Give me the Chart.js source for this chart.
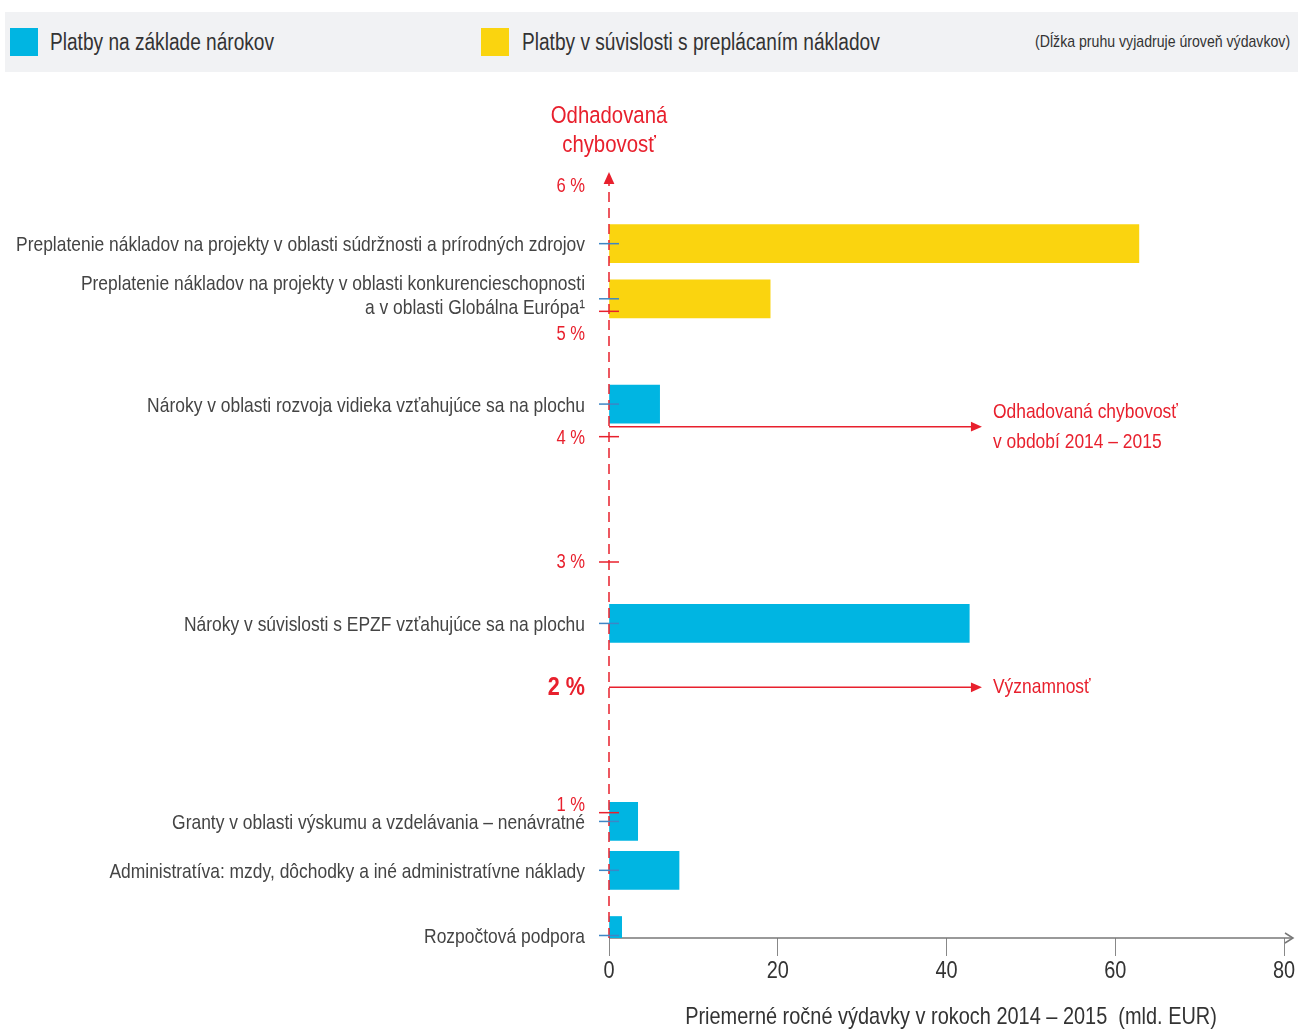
<!DOCTYPE html>
<html>
<head>
<meta charset="utf-8">
<script src="https://cdn.jsdelivr.net/npm/chart.js@4.4.1/dist/chart.umd.min.js"></script>
<style>
  html, body { margin: 0; padding: 0; background: #fff; }
  body { width: 1298px; height: 1030px; position: relative; overflow: hidden;
         font-family: "Liberation Sans", Arial, sans-serif; }
  #legend { position: absolute; left: 5px; top: 12px; width: 1293px; height: 60px;
            background: #f1f2f4; color: #333; z-index: 2; }
  #legend .sw { position: absolute; top: 16px; width: 28px; height: 28px; }
  #legend .lt { position: absolute; top: 0; line-height: 60px; font-size: 23px; white-space: nowrap;
                transform-origin: left center; }
  #legend .note { position: absolute; right: 8px; top: 0; line-height: 60px; font-size: 17px; white-space: nowrap;
                  transform-origin: right center; }
  #chart { position: absolute; left: 0; top: 0; }
</style>
</head>
<body>
<div id="legend">
  <div class="sw" style="left:5px;background:#00b5e2"></div>
  <div class="lt" style="left:45px">Platby na základe nárokov</div>
  <div class="sw" style="left:476px;background:#fad40f"></div>
  <div class="lt" style="left:517px">Platby v súvislosti s preplácaním nákladov</div>
  <div class="note">(Dĺžka pruhu vyjadruje úroveň výdavkov)</div>
</div>
<canvas id="chart" width="1298" height="1030"></canvas>
<script>
// data
const categories = [
  ["Preplatenie nákladov na projekty v oblasti súdržnosti a prírodných zdrojov"],
  ["Preplatenie nákladov na projekty v oblasti konkurencieschopnosti", "a v oblasti Globálna Európa¹"],
  ["Nároky v oblasti rozvoja vidieka vzťahujúce sa na plochu"],
  ["Nároky v súvislosti s EPZF vzťahujúce sa na plochu"],
  ["Granty v oblasti výskumu a vzdelávania – nenávratné"],
  ["Administratíva: mzdy, dôchodky a iné administratívne náklady"],
  ["Rozpočtová podpora"]
];
const spending = [62.8, 19.1, 6.0, 42.7, 3.4, 8.3, 1.5];      // mld. EUR
const errorRate = [5.54, 5.10, 4.26, 2.51, 0.93, 0.54, 0.02];  // %
const paymentType = ["reimb", "reimb", "entitle", "entitle", "entitle", "entitle", "entitle"];
const rateTicks = [1, 2, 3, 4, 5, 6];
const spendTicks = [0, 20, 40, 60, 80];
const overallError = 4.08;
const materiality = 2;

const RED = "#e8202d";
const GREY = "#444";
const FONT = '"Liberation Sans", Arial, sans-serif';
const typeColor = { entitle: "#00b5e2", reimb: "#fad40f" };
// label nudges so they don't sit on top of each other
const rateLabelShift = { 5: 23, 1: -7, 4: 2 };

// the original uses a condensed face; squeeze a regular one to the same width
const mctx = document.createElement("canvas").getContext("2d");
mctx.font = "21px " + FONT;
const K = 569 / mctx.measureText(categories[0][0]).width;
document.querySelectorAll("#legend .lt, #legend .note").forEach(el => {
  el.style.transform = "scaleX(" + K + ")";
});

function txt(ctx, text, x, y, size, align, bold) {
  ctx.save();
  ctx.font = (bold ? "bold " : "") + size + "px " + FONT;
  ctx.textAlign = align;
  ctx.textBaseline = "middle";
  ctx.translate(x, y);
  ctx.scale(K, 1);
  ctx.fillText(text, 0, 0);
  ctx.restore();
}

function arrowHead(ctx, x, y, dir, size) {
  ctx.beginPath();
  if (dir === "up") {
    ctx.moveTo(x, y); ctx.lineTo(x - size * 0.45, y + size); ctx.lineTo(x + size * 0.45, y + size);
  } else {
    ctx.moveTo(x, y); ctx.lineTo(x - size, y - size * 0.45); ctx.lineTo(x - size, y + size * 0.45);
  }
  ctx.closePath();
  ctx.fill();
}

const decorations = {
  id: "decorations",
  beforeDatasetsDraw(chart) {
    const { ctx, scales: { x, y } } = chart;
    const y0 = y.getPixelForValue(0);
    ctx.save();
    ctx.strokeStyle = "#777";
    ctx.lineWidth = 1.5;
    ctx.beginPath();
    ctx.moveTo(x.getPixelForValue(0), y0);
    ctx.lineTo(1292, y0);
    ctx.stroke();
    ctx.beginPath();
    ctx.moveTo(1285, y0 - 5); ctx.lineTo(1293, y0); ctx.lineTo(1285, y0 + 5);
    ctx.stroke();

    // spending tick labels + axis title
    ctx.fillStyle = "#333";
    spendTicks.forEach(v => txt(ctx, String(v), x.getPixelForValue(v), 971, 24, "center"));
    txt(ctx, "Priemerné ročné výdavky v rokoch 2014 – 2015  (mld. EUR)", 951, 1017, 24, "center");
    ctx.restore();
  },
  afterDatasetsDraw(chart) {
    const { ctx, scales: { x, y } } = chart;
    const x0 = x.getPixelForValue(0);
    ctx.save();

    // dashed error-rate axis
    ctx.strokeStyle = RED;
    ctx.fillStyle = RED;
    ctx.lineWidth = 1.5;
    ctx.setLineDash([10, 6]);
    ctx.beginPath();
    ctx.moveTo(x0, y.getPixelForValue(0));
    ctx.lineTo(x0, y.getPixelForValue(6) - 4);
    ctx.stroke();
    ctx.setLineDash([]);
    arrowHead(ctx, x0, y.getPixelForValue(6) - 14, "up", 12);

    // axis title
    txt(ctx, "Odhadovaná", x0, 116, 24.5, "center");
    txt(ctx, "chybovosť", x0, 145, 24.5, "center");

    // rate ticks + labels
    rateTicks.forEach(v => {
      const py = y.getPixelForValue(v);
      if (v !== 6 && v !== materiality) {
        ctx.beginPath();
        ctx.moveTo(x0 - 10, py); ctx.lineTo(x0 + 10, py);
        ctx.stroke();
      }
      if (v === materiality) txt(ctx, v + " %", 585, py, 26, "right", true);
      else txt(ctx, v + " %", 585, py + (rateLabelShift[v] || 0), 20, "right");
    });

    // reference arrows
    const xEnd = x.getPixelForValue(44.2);
    [[overallError, ["Odhadovaná chybovosť", "v období 2014 – 2015"]], [materiality, ["Významnosť"]]].forEach(([v, lines]) => {
      const py = y.getPixelForValue(v);
      ctx.lineWidth = 1.5;
      ctx.beginPath();
      ctx.moveTo(x0, py); ctx.lineTo(xEnd - 8, py);
      ctx.stroke();
      arrowHead(ctx, xEnd, py, "right", 11);
      if (lines.length === 1) {
        txt(ctx, lines[0], xEnd + 11, py, 21, "left");
      } else {
        txt(ctx, lines[0], xEnd + 11, py - 14, 21, "left");
        txt(ctx, lines[1], xEnd + 11, py + 16, 21, "left");
      }
    });

    // category ticks + labels
    categories.forEach((lines, i) => {
      const py = y.getPixelForValue(errorRate[i]);
      ctx.strokeStyle = "#3d86c6";
      ctx.lineWidth = 1.5;
      ctx.beginPath();
      ctx.moveTo(x0 - 10, py); ctx.lineTo(x0 + 10, py);
      ctx.stroke();
      ctx.fillStyle = GREY;
      if (lines.length === 1) {
        txt(ctx, lines[0], 585, py + 2, 21, "right");
      } else {
        txt(ctx, lines[0], 585, py - 15, 21, "right");
        txt(ctx, lines[1], 585, py + 9, 21, "right");
      }
    });
    ctx.restore();
  }
};

new Chart(document.getElementById("chart"), {
  type: "bar",
  data: {
    datasets: [{
      data: categories.map((c, i) => ({ x: spending[i], y: errorRate[i] })),
      backgroundColor: paymentType.map(t => typeColor[t]),
      barThickness: 38,
      borderWidth: 0
    }]
  },
  options: {
    responsive: false,
    animation: false,
    indexAxis: "y",
    layout: { padding: { left: 609, right: 14, top: 186, bottom: 0 } },
    plugins: { legend: { display: false }, tooltip: { enabled: false } },
    scales: {
      x: {
        type: "linear",
        min: 0,
        max: 80,
        afterBuildTicks: s => { s.ticks = spendTicks.map(v => ({ value: v })); },
        afterFit: s => { s.height = 92; },
        grid: { drawOnChartArea: false, drawTicks: true, tickLength: 18, color: "#888" },
        border: { display: false },
        ticks: { display: false }
      },
      y: { type: "linear", min: 0, max: 6, offset: false, grid: { offset: false }, display: false }
    }
  },
  plugins: [decorations]
});
</script>
</body>
</html>
